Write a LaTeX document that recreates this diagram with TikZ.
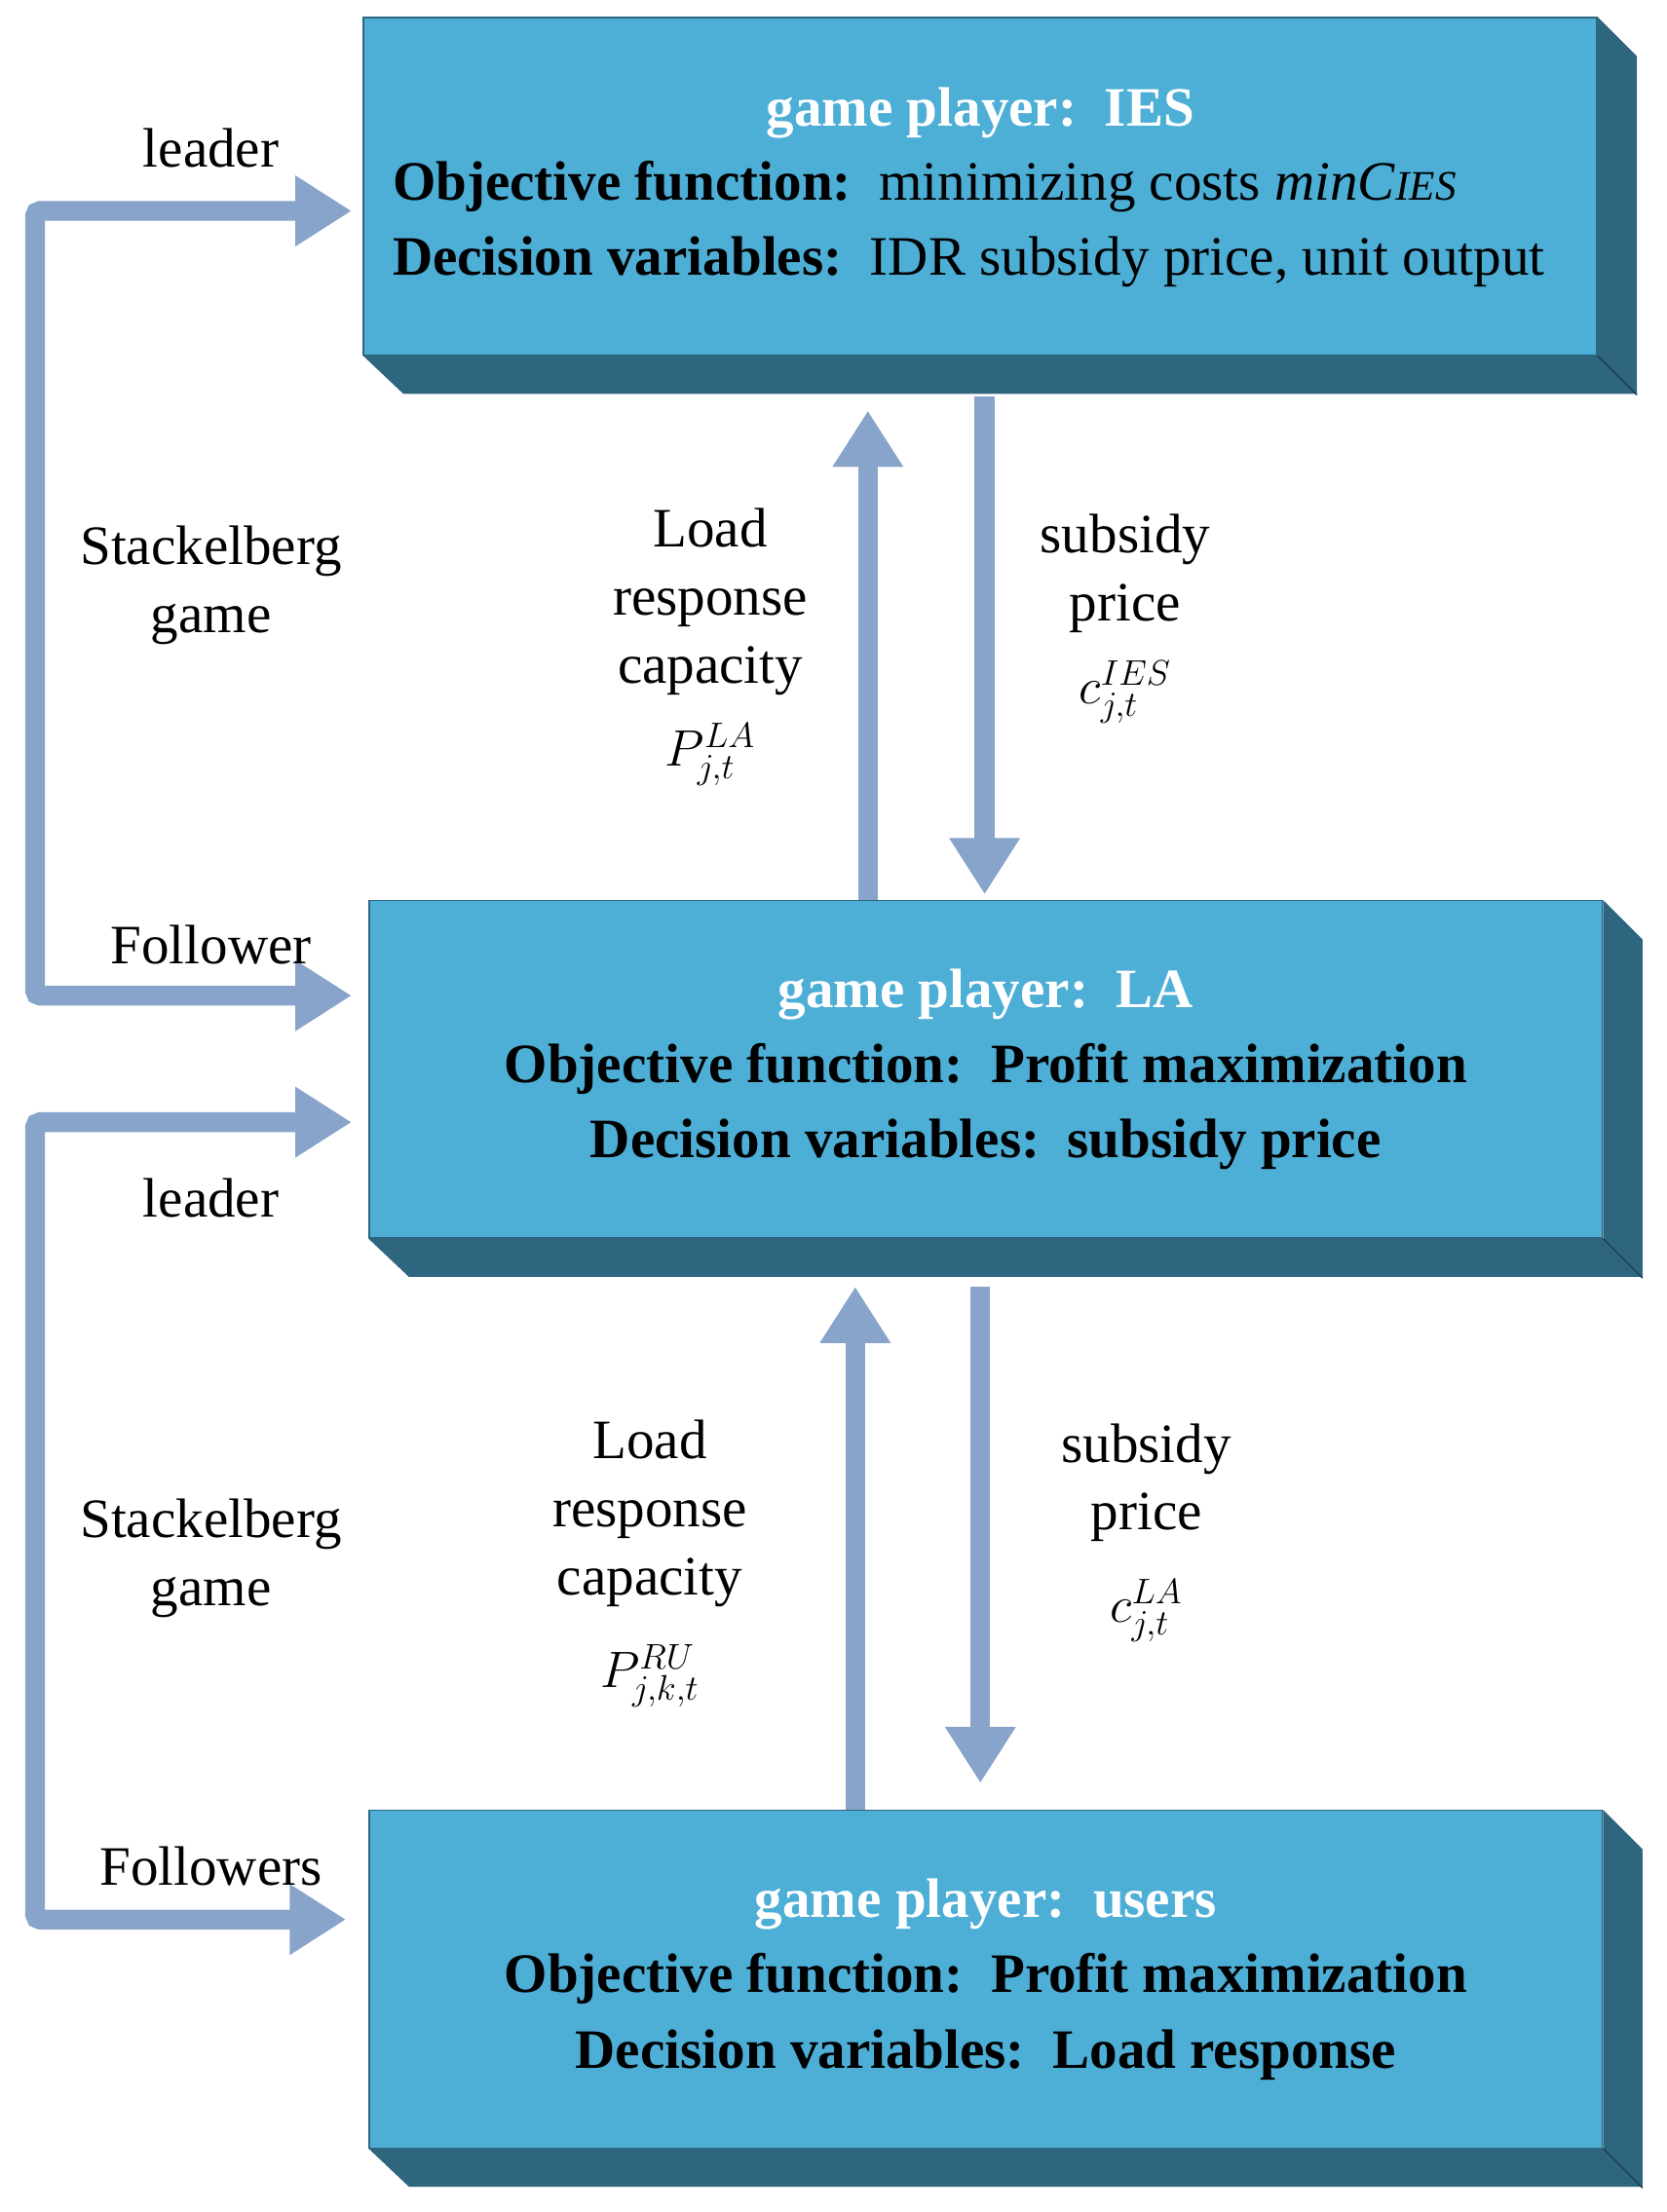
\documentclass[tikz,border=0pt]{standalone}
\usepackage{fontspec}
\setmainfont{Liberation Serif}
\usetikzlibrary{arrows.meta,positioning}
\definecolor{boxfront}{HTML}{4DAED6}
\definecolor{boxside}{HTML}{2E6680}
\definecolor{arrowc}{HTML}{88A4CA}
\begin{document}
\begin{tikzpicture}[x=0.02cm,y=-0.02cm,
  box/.style={fill=boxfront, draw=boxside, line width=0.5pt, minimum width=17.54cm, minimum height=4.8cm, align=center, inner sep=0pt},
  lbl/.style={align=center, font=\fontsize{22.5}{27.5}\selectfont},
  flow/.style={draw=arrowc, line width=8pt, -{Triangle[length=0.8cm,width=0.95cm]}}]
\tikzset{every node/.append style={font=\fontsize{22.5}{30.5}\selectfont}}
\useasboundingbox (0,0) rectangle (1185,1573);
% boxes
\node[box, anchor=north west] (ies) at (258,12) {};
\node[box, anchor=north west] (la) at (262,640) {};
\node[box, anchor=north west] (usr) at (262,1287) {};
\foreach \b in {ies,la,usr}{
\fill[boxside] (\b.north east) -- ++(28,28) -- ++(0,240) -- ++(-877,0) -- (\b.south west) -- (\b.south east) -- cycle;
\draw[boxside!60!black, line width=0.5pt] (\b.south east) -- ++(28,28);
}
\node[text=white] (iest) at (697,80) {\textbf{game player:\ \ IES}};
\node[align=left, anchor=north west] (iesb) at (273,108) {\textbf{Objective function:}\ \ minimizing costs \textit{minC}{\fontsize{17}{20}\selectfont\textit{IES}}\\
\textbf{Decision variables:}\ \ IDR subsidy price, unit output};
\node[align=center] at (la.center) {\textbf{\color{white}game player:\ \ LA}\\
\textbf{Objective function:\ \ Profit maximization}\\
\textbf{Decision variables:\ \ subsidy price}};
\node[align=center] at (usr.center) {\textbf{\color{white}game player:\ \ users}\\
\textbf{Objective function:\ \ Profit maximization}\\
\textbf{Decision variables:\ \ Load response}};
% vertical arrows
\draw[flow] (617,640) -- (617,292);
\draw[flow] (700,282) -- (700,636);
\draw[flow] (608,1287) -- (608,915);
\draw[flow] (697,915) -- (697,1268);
% left brackets
\coordinate (t1) at (250,150);
\coordinate (t2) at (250,708);
\coordinate (b1) at (250,798);
\coordinate (b2) at (246,1365);
\draw[flow, {Triangle[length=0.8cm,width=0.95cm]}-{Triangle[length=0.8cm,width=0.95cm]}, rounded corners=2pt] (t1) -| (25,400) |- (t2);
\draw[flow, {Triangle[length=0.8cm,width=0.95cm]}-{Triangle[length=0.8cm,width=0.95cm]}, rounded corners=2pt] (b1) -| (25,1100) |- (b2);
% labels
\node[lbl] at (150,105) {leader};
\node[lbl] at (150,416) {Stackelberg\\game};
\node[lbl] at (150,672) {Follower};
\node[lbl] at (150,852) {leader};
\node[lbl] at (150,1108) {Stackelberg\\game};
\node[lbl] at (150,1327) {Followers};
\node[lbl] at (505,460) {Load\\response\\capacity\\[6pt]$P^{LA}_{j,t}$};
\node[lbl] at (800,440) {subsidy\\price\\[6pt]$c^{IES}_{j,t}$};
\node[lbl] at (462,1112) {Load\\response\\capacity\\[10pt]$P^{RU}_{j,k,t}$};
\node[lbl] at (815,1090) {subsidy\\price\\[10pt]$c^{LA}_{j,t}$};
\end{tikzpicture}
\end{document}
